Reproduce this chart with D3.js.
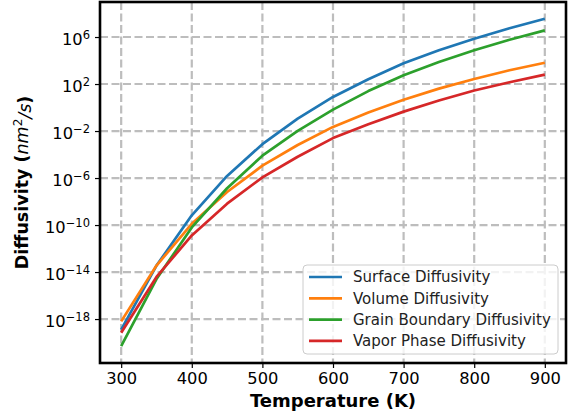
<!DOCTYPE html>
<html>
<head>
<meta charset="utf-8">
<script src="https://cdn.jsdelivr.net/npm/d3@7"></script>
<style>
  body { margin: 0; background: #fff; }
  svg { display: block; font-family: "DejaVu Sans", sans-serif; }
</style>
</head>
<body>
<svg id="chart"></svg>
<script>
// temperatures (K)
const temps = [300, 350, 400, 450, 500, 550, 600, 650, 700, 750, 800, 850, 900];

// log10 of diffusivity (nm^2/s)
const surfaceLog = [-18.9, -13.45, -9.17, -5.82, -3.12, -0.95, 0.9, 2.41, 3.77, 4.88, 5.85, 6.75, 7.56];
const volumeLog = [-18.2, -13.45, -9.9, -7.19, -4.95, -3.19, -1.65, -0.42, 0.66, 1.61, 2.43, 3.17, 3.81];
const grainLog = [-20.3, -14.6, -10.2, -6.87, -4.1, -1.99, -0.18, 1.4, 2.75, 3.88, 4.88, 5.77, 6.57];
const vaporLog = [-19.16, -14.42, -10.88, -8.18, -5.95, -4.19, -2.6, -1.42, -0.35, 0.6, 1.45, 2.15, 2.8];

const seriesNames = ["Surface Diffusivity", "Volume Diffusivity", "Grain Boundary Diffusivity", "Vapor Phase Diffusivity"];
const seriesColors = ["#1f77b4", "#ff7f0e", "#2ca02c", "#d62728"];
const xTicks = [300, 400, 500, 600, 700, 800, 900];
const yTickExps = [-18, -14, -10, -6, -2, 2, 6];

const width = 569, height = 416;
const margin = { top: 2, right: 3, bottom: 53, left: 100 };

const svg = d3.select("#chart").attr("width", width).attr("height", height);

const x = d3.scaleLinear().domain([270, 930]).range([margin.left, width - margin.right]);
const y = d3.scaleLog().domain([Math.pow(10, -21.74), Math.pow(10, 8.98)])
    .range([height - margin.bottom, margin.top]);

// grid
const grid = svg.append("g");
grid.selectAll("line.vx").data(xTicks).join("line")
    .attr("x1", d => x(d)).attr("x2", d => x(d))
    .attr("y1", margin.top).attr("y2", height - margin.bottom)
    .attr("stroke", "#bdbdbd").attr("stroke-width", 2.2).attr("stroke-dasharray", "8,3.5");
grid.selectAll("line.hy").data(yTickExps).join("line")
    .attr("x1", margin.left).attr("x2", width - margin.right)
    .attr("y1", d => y(Math.pow(10, d))).attr("y2", d => y(Math.pow(10, d)))
    .attr("stroke", "#bdbdbd").attr("stroke-width", 2.2).attr("stroke-dasharray", "8,3.5");

// lines
const allSeries = [surfaceLog, volumeLog, grainLog, vaporLog];
const line = d3.line()
    .x((d, i) => x(temps[i]))
    .y(d => y(Math.pow(10, d)));

allSeries.forEach((s, i) => {
    svg.append("path")
        .datum(s)
        .attr("fill", "none")
        .attr("stroke", seriesColors[i])
        .attr("stroke-width", 2.7)
        .attr("stroke-linejoin", "round")
        .attr("d", line);
});

// axes
const xAxis = svg.append("g")
    .attr("transform", `translate(0,${height - margin.bottom})`)
    .call(d3.axisBottom(x).tickValues(xTicks).tickSize(5).tickPadding(4));
xAxis.select(".domain").remove();
xAxis.selectAll(".tick line").attr("stroke", "#000").attr("stroke-width", 1.2);
xAxis.selectAll(".tick text")
    .attr("font-size", "16.3px")
    .attr("font-family", "DejaVu Sans")
    .attr("fill", "#000");

const yAxis = svg.append("g")
    .attr("transform", `translate(${margin.left},0)`)
    .call(d3.axisLeft(y).tickValues(yTickExps.map(e => Math.pow(10, e))).tickSize(5).tickFormat(""));
yAxis.select(".domain").remove();
yAxis.selectAll(".tick line").attr("stroke", "#000").attr("stroke-width", 1.2);

yAxis.selectAll(".tick").each(function (d) {
    const e = Math.round(Math.log10(d));
    const t = d3.select(this).append("text")
        .attr("x", -10)
        .attr("dy", "0.45em")
        .attr("text-anchor", "end")
        .attr("fill", "#000")
        .attr("font-size", "16.3px")
        .attr("font-family", "DejaVu Sans");
    t.append("tspan").text("10");
    t.append("tspan")
        .attr("dy", "-0.5em")
        .attr("font-size", "11.5px")
        .text(String(e).replace("-", "\u2212"));
});

// frame
svg.append("rect")
    .attr("x", margin.left).attr("y", margin.top)
    .attr("width", width - margin.left - margin.right)
    .attr("height", height - margin.top - margin.bottom)
    .attr("fill", "none").attr("stroke", "#000").attr("stroke-width", 2.6);

// axis labels
svg.append("text")
    .attr("x", (margin.left + width - margin.right) / 2)
    .attr("y", 407)
    .attr("text-anchor", "middle")
    .attr("font-size", "18px")
    .attr("font-weight", "bold")
    .text("Temperature (K)");

const ylab = svg.append("text")
    .attr("transform", `translate(28,${(margin.top + height - margin.bottom) / 2}) rotate(-90)`)
    .attr("text-anchor", "middle")
    .attr("font-size", "17.5px")
    .attr("font-weight", "bold");
ylab.append("tspan").text("Diffusivity (");
ylab.append("tspan").attr("font-style", "italic").attr("font-weight", "normal").text("nm");
ylab.append("tspan").attr("dy", "-0.5em").attr("font-size", "12px").attr("font-weight", "normal").text("2");
ylab.append("tspan").attr("dy", "0.5em").attr("font-style", "italic").attr("font-weight", "normal").text("/s");
ylab.append("tspan").text(")");

// legend
const legend = svg.append("g").attr("transform", "translate(303,265)");
legend.append("rect")
    .attr("width", 255).attr("height", 89).attr("rx", 4)
    .attr("fill", "#fff").attr("fill-opacity", 0.8)
    .attr("stroke", "#cccccc").attr("stroke-width", 1);
seriesNames.forEach((name, i) => {
    const gy = 12 + i * 21.3;
    legend.append("line")
        .attr("x1", 6).attr("x2", 39)
        .attr("y1", gy).attr("y2", gy)
        .attr("stroke", seriesColors[i]).attr("stroke-width", 2.7);
    legend.append("text")
        .attr("x", 50).attr("y", gy)
        .attr("dy", "0.35em")
        .attr("font-size", "15px")
        .attr("fill", "#222")
        .text(name);
});
</script>
</body>
</html>
